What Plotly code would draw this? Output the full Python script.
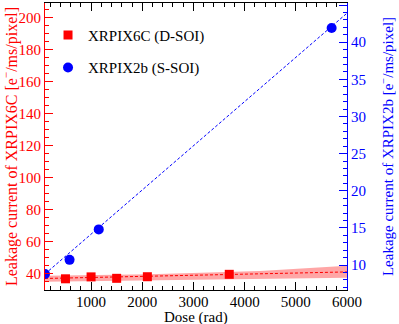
import plotly.graph_objects as go

# XRPIX6C (D-SOI), left axis
dose_6c = [500, 1000, 1500, 2100, 3700]
leak_6c = [36.6, 37.8, 36.9, 37.9, 39.4]
fit_6c_x = [100, 6000]
fit_6c_y = [36.8, 40.9]
band_x = [100, 2150, 4300, 6000]
band_hi = [38.5, 39.5, 41.4, 44.7]
band_lo = [34.8, 35.7, 36.9, 37.3]

# XRPIX2b (S-SOI), right axis
dose_2b = [100, 580, 1150, 5700]
leak_2b = [8.8, 10.7, 14.8, 41.9]
fit_2b_x = [100, 6000]
fit_2b_y = [8.8, 43.9]

RED = "#ff0000"
BLUE = "#0000ff"
FONT = "Liberation Serif, Times New Roman, DejaVu Serif, serif"

fig = go.Figure()

# error band of the red fit
fig.add_trace(go.Scatter(x=band_x, y=band_lo, mode="lines", line=dict(width=0),
                         showlegend=False, hoverinfo="skip"))
fig.add_trace(go.Scatter(x=band_x, y=band_hi, mode="lines", line=dict(width=0),
                         fill="tonexty", fillcolor="rgba(255,0,0,0.35)",
                         showlegend=False, hoverinfo="skip"))
fig.add_trace(go.Scatter(x=fit_6c_x, y=fit_6c_y, mode="lines",
                         line=dict(color=RED, width=1, dash="3px,2px"),
                         showlegend=False, hoverinfo="skip"))
fig.add_trace(go.Scatter(x=dose_6c, y=leak_6c, mode="markers", name="XRPIX6C (D-SOI)",
                         marker=dict(symbol="square", size=9, color=RED),
                         legendgroup="a"))

fig.add_trace(go.Scatter(x=fit_2b_x, y=fit_2b_y, mode="lines", yaxis="y2",
                         line=dict(color=BLUE, width=1, dash="3px,2px"),
                         showlegend=False, hoverinfo="skip"))
fig.add_trace(go.Scatter(x=dose_2b, y=leak_2b, mode="markers", name="XRPIX2b (S-SOI)",
                         yaxis="y2", marker=dict(symbol="circle", size=10, color=BLUE),
                         legendgroup="b"))

fig.update_layout(
    width=399, height=324,
    margin=dict(l=45, r=52, t=3, b=34, autoexpand=False),
    plot_bgcolor="white", paper_bgcolor="white",
    font=dict(family=FONT, size=15, color="black"),
    showlegend=True,
    legend=dict(x=0.01, y=0.945, xanchor="left", yanchor="top",
                bgcolor="rgba(0,0,0,0)", font=dict(family=FONT, size=15, color="black"),
                traceorder="grouped", tracegroupgap=10),
    xaxis=dict(range=[100, 6000], dtick=1000, ticks="inside", ticklen=8,
               tickcolor="black", showline=True, linecolor="black", linewidth=1,
               mirror="ticks", showgrid=False, zeroline=False, automargin=False,
               tickfont=dict(family=FONT, size=15), ticklabelstandoff=-2,
               minor=dict(dtick=200, ticks="inside", ticklen=4, tickcolor="black")),
    yaxis=dict(range=[29.6, 209], dtick=20, ticks="inside", ticklen=8,
               tickcolor=RED, showline=True, linecolor=RED, linewidth=1,
               showgrid=False, zeroline=False, automargin=False,
               tickfont=dict(family=FONT, size=15, color=RED),
               minor=dict(dtick=5, ticks="inside", ticklen=4, tickcolor=RED),
               title=dict(text="Leakage current of XRPIX6C [e<sup>−</sup>/ms/pixel]",
                          font=dict(family=FONT, size=16, color=RED), standoff=2)),
    yaxis2=dict(range=[6.64, 45.27], dtick=5, overlaying="y", side="right",
                ticks="inside", ticklen=8, tickcolor=BLUE, showline=True,
                linecolor=BLUE, linewidth=1, showgrid=False, zeroline=False,
                tickfont=dict(family=FONT, size=15, color=BLUE), automargin=False,
                minor=dict(dtick=1, ticks="inside", ticklen=4, tickcolor=BLUE),
                title=dict(text="Leakage current of XRPIX2b [e<sup>−</sup>/ms/pixel]",
                           font=dict(family=FONT, size=15, color=BLUE), standoff=17)),
)

# x axis title placed just under the tick labels
fig.add_annotation(text="Dose (rad)", xref="paper", yref="paper", x=0.5, y=-0.096,
                   xanchor="center", yanchor="middle", showarrow=False,
                   font=dict(family=FONT, size=15, color="black"))

fig.write_html("out.html", config={"displayModeBar": False},
               post_script="document.body.style.margin='0';")
